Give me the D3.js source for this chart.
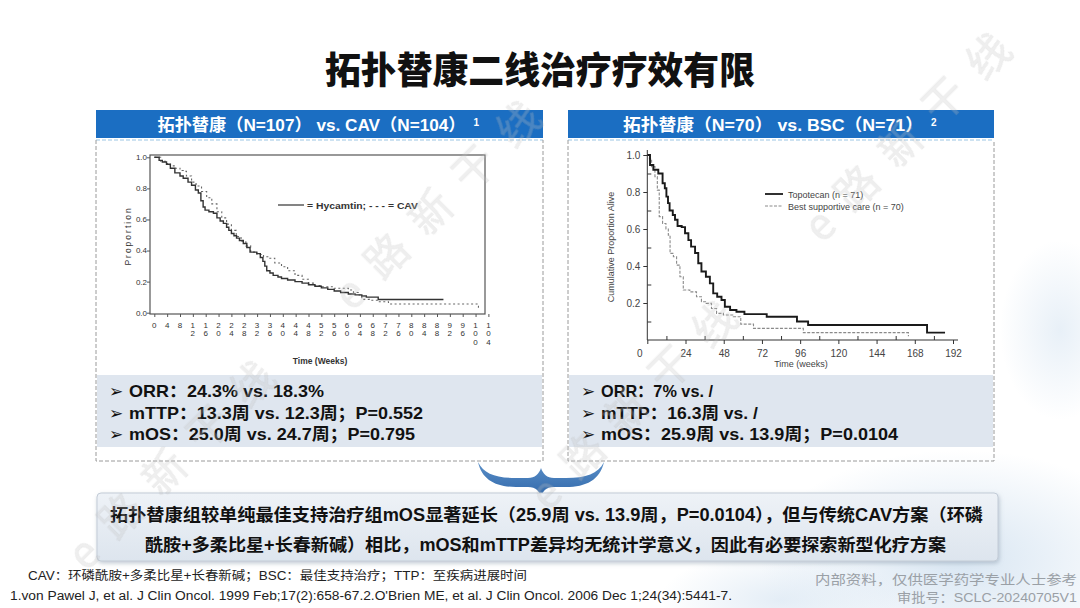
<!DOCTYPE html>
<html><head><meta charset="utf-8">
<script src="https://cdn.jsdelivr.net/npm/d3@7"></script>
<style>
html,body{margin:0;padding:0;background:#fff;}
svg{display:block;font-family:"Liberation Sans","Noto Sans CJK SC",sans-serif;}
</style></head>
<body>
<svg id="c" width="1080" height="608"></svg>
<script>
// ---------- DATA ----------
const title = "拓扑替康二线治疗疗效有限";
const headerLeft = "拓扑替康（N=107） vs. CAV（N=104）";
const headerRight = "拓扑替康（N=70） vs. BSC（N=71）";
const bulletsLeft = ["ORR：24.3% vs. 18.3%", "mTTP：13.3周 vs. 12.3周；P=0.552", "mOS：25.0周 vs. 24.7周；P=0.795"];
const bulletsRight = ["ORR：7% vs. /", "mTTP：16.3周 vs. /", "mOS：25.9周 vs. 13.9周；P=0.0104"];
const summaryLines = ["拓扑替康组较单纯最佳支持治疗组mOS显著延长（25.9周 vs. 13.9周，P=0.0104），但与传统CAV方案（环磷",
                      "酰胺+多柔比星+长春新碱）相比，mOS和mTTP差异均无统计学意义，因此有必要探索新型化疗方案"];
const footLeft = ["CAV：环磷酰胺+多柔比星+长春新碱；BSC：最佳支持治疗；TTP：至疾病进展时间",
                  "1.von Pawel J, et al. J Clin Oncol. 1999 Feb;17(2):658-67.2.O'Brien ME, et al. J Clin Oncol. 2006 Dec 1;24(34):5441-7."];
const footRight = ["内部资料，仅供医学药学专业人士参考", "审批号：SCLC-20240705V1"];

// left chart (weeks, proportion)
const leftXTicks = d3.range(0, 105, 4);
const leftYTicks = [0, 0.2, 0.4, 0.6, 0.8, 1.0];
const hycamtin = [[0,1],[1.5,0.98],[2.5,0.97],[3.8,0.955],[5,0.93],[6.4,0.90],[8,0.88],[9,0.865],[10.5,0.84],[11.6,0.82],[12.8,0.79],[13.7,0.77],[14.5,0.72],[15.2,0.68],[15.8,0.66],[17,0.65],[18.4,0.64],[19.5,0.61],[20.5,0.59],[21.5,0.575],[22.5,0.55],[23.2,0.53],[24,0.51],[24.8,0.495],[25.6,0.48],[26.5,0.465],[27.7,0.445],[28.8,0.42],[29.8,0.39],[31.9,0.38],[33,0.355],[33.8,0.33],[34.4,0.30],[35,0.27],[36,0.255],[37,0.24],[38.5,0.23],[39.6,0.22],[41.5,0.21],[43.8,0.20],[46,0.19],[48,0.18],[50,0.17],[52,0.16],[54,0.15],[56,0.14],[58,0.13],[60.4,0.12],[62.5,0.115],[64.6,0.107],[66,0.10],[69.7,0.085],[90,0.085]];
const cav = [[0,1],[2,0.975],[3.8,0.96],[5,0.945],[6.4,0.93],[8,0.915],[9,0.91],[10,0.88],[11.6,0.84],[13,0.815],[14.7,0.78],[16.3,0.74],[17.9,0.70],[19.5,0.65],[21,0.61],[22.5,0.57],[24,0.53],[25.5,0.49],[27,0.46],[28.5,0.43],[30,0.39],[32,0.375],[34,0.36],[35.5,0.35],[37.5,0.32],[39.6,0.296],[41.5,0.27],[43.8,0.24],[46,0.215],[48,0.19],[50,0.175],[52,0.167],[56,0.157],[60.4,0.146],[62,0.13],[63.5,0.114],[64.6,0.086],[67,0.08],[69.7,0.07],[72.9,0.056],[100.9,0.056],[100.9,0.03]];

// right chart
const rightXTicks = d3.range(0, 193, 24);
const rightXMinor = d3.range(12, 193, 24);
const rightYTicks = [0.2, 0.4, 0.6, 0.8, 1.0];
const rightYMinor = [0.1, 0.3, 0.5, 0.7, 0.9];
const topotecan = [[0,1],[1.7,0.946],[3.8,0.92],[6.9,0.90],[9.6,0.847],[11,0.82],[12,0.775],[13,0.74],[14,0.70],[16,0.676],[17.4,0.65],[19,0.616],[21.6,0.61],[23.7,0.577],[25.8,0.54],[27.5,0.505],[30,0.47],[32,0.415],[34,0.37],[36.8,0.342],[39.3,0.306],[41.4,0.252],[43.9,0.234],[46.6,0.216],[48.7,0.18],[52,0.162],[56,0.153],[61,0.14],[75,0.126],[94,0.10],[101,0.081],[175.7,0.04],[187,0.04]];
const bsc = [[0,1],[1.3,0.98],[2.7,0.937],[4.8,0.883],[6.3,0.81],[7.5,0.667],[9.6,0.63],[11.7,0.60],[13.2,0.567],[14.3,0.468],[16.4,0.45],[18.4,0.405],[20.5,0.342],[22.6,0.27],[26.7,0.26],[30.9,0.234],[34,0.207],[37,0.198],[40.3,0.17],[43.5,0.144],[47.8,0.135],[54,0.126],[58.7,0.086],[66.7,0.063],[98,0.04],[164,0.04],[164,0.02]];
const leftLegend = "= Hycamtin; - - - = CAV";
const rightLegend = ["Topotecan (n = 71)", "Best supportive care (n = 70)"];
const watermark = "e路新干线";

// ---------- DRAW ----------
const svg = d3.select("#c");
const defs = svg.append("defs");
const rg = defs.append("radialGradient").attr("id","bub");
rg.append("stop").attr("offset","0%").attr("stop-color","#d4e3f1").attr("stop-opacity",0.9);
rg.append("stop").attr("offset","100%").attr("stop-color","#d4e3f1").attr("stop-opacity",0);
const sg = defs.append("linearGradient").attr("id","sumg").attr("x1",0).attr("y1",0).attr("x2",0).attr("y2",1);
sg.append("stop").attr("offset","0%").attr("stop-color","#eef2f7");
sg.append("stop").attr("offset","100%").attr("stop-color","#dde5ee");
const bg = defs.append("linearGradient").attr("id","brg").attr("x1",0).attr("y1",0).attr("x2",0).attr("y2",1);
bg.append("stop").attr("offset","0%").attr("stop-color","#5a8fc8");
bg.append("stop").attr("offset","100%").attr("stop-color","#2f66a8");
const sh = defs.append("filter").attr("id","shadow").attr("x","-5%").attr("y","-20%").attr("width","110%").attr("height","150%");
sh.append("feDropShadow").attr("dx",1).attr("dy",2).attr("stdDeviation",2).attr("flood-color","#8899aa").attr("flood-opacity",0.5);

// background decorations
svg.append("ellipse").attr("cx",960).attr("cy",560).attr("rx",200).attr("ry",110).attr("fill","url(#bub)");
svg.append("ellipse").attr("cx",1060).attr("cy",330).attr("rx",60).attr("ry",90).attr("fill","url(#bub)").attr("opacity",0.6);
svg.append("ellipse").attr("cx",780).attr("cy",600).attr("rx",120).attr("ry",50).attr("fill","url(#bub)").attr("opacity",0.7);

// title
svg.append("text").attr("x",540).attr("y",84).attr("text-anchor","middle")
  .attr("font-family","'Noto Sans CJK SC'").attr("font-weight",900).attr("font-size",37)
  .attr("fill","#111").attr("textLength",430).attr("lengthAdjust","spacingAndGlyphs").text(title);

// panels
function panel(x0, x1, header, sup, hdrLen, bullets, bulletLens) {
  const g = svg.append("g");
  g.append("rect").attr("x",x0).attr("y",110).attr("width",x1-x0).attr("height",28).attr("fill","#1b6ec2");
  const cx = (x0+x1)/2;
  g.append("text").attr("x",cx-8).attr("y",131).attr("text-anchor","middle").attr("fill","#fff")
   .attr("font-weight",700).attr("font-size",17).attr("textLength",hdrLen).attr("lengthAdjust","spacingAndGlyphs")
   .text(header);
  g.append("text").attr("x",cx-8+hdrLen/2+8).attr("y",126).attr("fill","#fff").attr("font-size",10).attr("font-weight",700).text(sup);
  // dashed box
  g.append("line").attr("x1",x0).attr("x2",x1).attr("y1",140).attr("y2",140).attr("stroke","#9cc6e4").attr("stroke-width",1.2).attr("stroke-dasharray","4,2");
  g.append("path").attr("d",`M${x0},140 V461 H${x1} V140`).attr("fill","none").attr("stroke","#9a9a9a").attr("stroke-width",1).attr("stroke-dasharray","4,2");
  // bullets background
  g.append("rect").attr("x",x0+1).attr("y",375).attr("width",x1-x0-2).attr("height",72).attr("fill","#dfe6ef");
  bullets.forEach((b,i)=>{
    const y = 397 + i*21.5;
    g.append("text").attr("x",x0+13).attr("y",y).attr("font-size",17).attr("font-family","'DejaVu Sans'").attr("fill","#111").text("➢");
    g.append("text").attr("x",x0+33).attr("y",y).attr("font-size",17).attr("font-weight",700).attr("fill","#111")
      .attr("textLength",bulletLens[i]).attr("lengthAdjust","spacingAndGlyphs").text(b);
  });
  return g;
}
panel(96, 543, headerLeft, "1", 308, bulletsLeft, [195, 294, 286]);
panel(568, 994, headerRight, "2", 300, bulletsRight, [112, 157, 297]);

// ---------- LEFT CHART ----------
const xL = d3.scaleLinear().domain([0,104]).range([154.3,488.4]);
const yL = d3.scaleLinear().domain([0,1]).range([312.7,157.3]);
const gl = svg.append("g").attr("font-family","'Liberation Sans',Arial,sans-serif");
gl.append("rect").attr("x",150).attr("y",155).attr("width",335).attr("height",159).attr("fill","none").attr("stroke","#555").attr("stroke-width",1.2);
const yAxL = gl.append("g").attr("transform","translate(150,0)")
  .call(d3.axisLeft(yL).tickValues(leftYTicks).tickFormat(d3.format(".1f")).tickSize(3));
yAxL.select(".domain").remove();
yAxL.selectAll("text").attr("font-size",8).attr("fill","#333").attr("dy","0.3em").attr("x",-3);
yAxL.selectAll("line").attr("stroke","#555");
const xAxL = gl.append("g").attr("transform","translate(0,314)")
  .call(d3.axisBottom(xL).tickValues(leftXTicks).tickFormat("").tickSize(3));
xAxL.select(".domain").remove();
xAxL.selectAll("line").attr("stroke","#555");
leftXTicks.forEach(v=>{
  const t = gl.append("text").attr("x",xL(v)).attr("y",328).attr("text-anchor","middle").attr("font-size",8).attr("fill","#333");
  String(v).split("").forEach((ch,i)=>t.append("tspan").attr("x",xL(v)).attr("dy",i===0?0:8.4).text(ch));
});
gl.append("text").attr("transform","translate(131,236) rotate(-90)").attr("text-anchor","middle").attr("font-size",8.5)
  .attr("letter-spacing",2).attr("fill","#333").text("Proportion");
gl.append("text").attr("x",320).attr("y",364).attr("text-anchor","middle").attr("font-size",8.5).attr("font-weight",700).attr("fill","#333").text("Time (Weeks)");
const lineL = d3.line().x(d=>xL(d[0])).y(d=>yL(d[1])).curve(d3.curveStepAfter);
gl.append("path").datum(cav).attr("d",lineL).attr("fill","none").attr("stroke","#666").attr("stroke-width",1.1).attr("stroke-dasharray","2,2.5");
gl.append("path").datum(hycamtin).attr("d",lineL).attr("fill","none").attr("stroke","#333").attr("stroke-width",1.4);
gl.append("line").attr("x1",278).attr("x2",304).attr("y1",205).attr("y2",205).attr("stroke","#333").attr("stroke-width",1.2);
gl.append("text").attr("x",307).attr("y",208.5).attr("font-size",9.5).attr("font-weight",700).attr("fill","#333")
  .attr("textLength",111).attr("lengthAdjust","spacingAndGlyphs").text(leftLegend);

// ---------- RIGHT CHART ----------
const xR = d3.scaleLinear().domain([0,192]).range([647.3,953]);
const yR = d3.scaleLinear().domain([0,1]).range([340,155]);
const gr = svg.append("g").attr("font-family","'Liberation Sans',Arial,sans-serif");
const yAxR = gr.append("g").attr("transform","translate(647.3,0)")
  .call(d3.axisLeft(yR).tickValues(rightYTicks).tickFormat(d3.format(".1f")).tickSize(4));
yAxR.select(".domain").attr("d","M0,150V340").attr("stroke","#333");
yAxR.selectAll("text").attr("font-size",10).attr("fill","#444");
yAxR.selectAll("line").attr("stroke","#333");
const yMinR = gr.append("g").attr("transform","translate(647.3,0)")
  .call(d3.axisRight(yR).tickValues(rightYMinor).tickFormat("").tickSize(4));
yMinR.select(".domain").remove();
yMinR.selectAll("line").attr("stroke","#333");
const xAxR = gr.append("g").attr("transform","translate(0,340)")
  .call(d3.axisBottom(xR).tickValues(rightXTicks).tickFormat(d3.format("d")).tickSize(4));
xAxR.select(".domain").attr("d","M647.3,0H958").attr("stroke","#333");
xAxR.selectAll("text").attr("font-size",10).attr("fill","#444").attr("dy","0.95em");
xAxR.selectAll(".tick").filter(d=>d===0).select("text").attr("x",-8);
xAxR.selectAll("line").attr("stroke","#333");
const xMinR = gr.append("g").attr("transform","translate(0,340)")
  .call(d3.axisTop(xR).tickValues(rightXMinor).tickFormat("").tickSize(4));
xMinR.select(".domain").remove();
xMinR.selectAll("line").attr("stroke","#333");
gr.append("text").attr("transform","translate(614,247) rotate(-90)").attr("text-anchor","middle").attr("font-size",9)
  .attr("fill","#444").text("Cumulative Proportion Alive");
gr.append("text").attr("x",801).attr("y",367).attr("text-anchor","middle").attr("font-size",9).attr("fill","#444").text("Time (weeks)");
const lineR = d3.line().x(d=>xR(d[0])).y(d=>yR(d[1])).curve(d3.curveStepAfter);
gr.append("path").datum(bsc).attr("d",lineR).attr("fill","none").attr("stroke","#8a8a8a").attr("stroke-width",1.1).attr("stroke-dasharray","3,1.5");
gr.append("path").datum(topotecan).attr("d",lineR).attr("fill","none").attr("stroke","#1a1a1a").attr("stroke-width",1.9);
gr.append("line").attr("x1",765).attr("x2",783).attr("y1",194).attr("y2",194).attr("stroke","#1a1a1a").attr("stroke-width",1.8);
gr.append("line").attr("x1",765).attr("x2",783).attr("y1",206).attr("y2",206).attr("stroke","#8a8a8a").attr("stroke-width",1).attr("stroke-dasharray","3,1.5");
rightLegend.forEach((t,i)=>gr.append("text").attr("x",788).attr("y",197.5+i*12).attr("font-size",9).attr("fill","#444").text(t));

// ---------- BRACE ----------
svg.append("path").attr("fill","url(#brg)")
  .attr("d","M478,462 C482,480 496,487 516,487 L528,487 C536,487 540,491 541,499 C542,491 546,487 554,487 L566,487 C586,487 600,480 604,462 C598,474 586,478 566,478 L554,478 C547,478 543,474 541,468 C539,474 535,478 528,478 L516,478 C496,478 484,474 478,462 Z");

// ---------- SUMMARY ----------
svg.append("rect").attr("x",97).attr("y",493).attr("width",901).attr("height",68).attr("rx",4)
  .attr("fill","url(#sumg)").attr("stroke","#c3ccd7").attr("stroke-width",1).attr("filter","url(#shadow)");
const sumLens = [873, 801];
const sumX = [110, 145];
summaryLines.forEach((t,i)=>svg.append("text").attr("x",sumX[i]).attr("y",521+i*30).attr("font-size",17.5).attr("font-weight",700)
  .attr("fill","#111").attr("textLength",sumLens[i]).attr("lengthAdjust","spacingAndGlyphs").text(t));

// ---------- FOOTNOTES ----------
svg.append("text").attr("x",28).attr("y",580).attr("font-size",12).attr("fill","#222").attr("textLength",499).attr("lengthAdjust","spacingAndGlyphs").text(footLeft[0]);
svg.append("text").attr("x",10).attr("y",600).attr("font-size",12).attr("fill","#222").attr("textLength",722).attr("lengthAdjust","spacingAndGlyphs").text(footLeft[1]);
svg.append("text").attr("x",1077).attr("y",584).attr("text-anchor","end").attr("font-size",13).attr("fill","#9aa0a6").attr("textLength",262).attr("lengthAdjust","spacingAndGlyphs").text(footRight[0]);
svg.append("text").attr("x",1077).attr("y",602).attr("text-anchor","end").attr("font-size",13).attr("fill","#9aa0a6").attr("textLength",180).attr("lengthAdjust","spacingAndGlyphs").text(footRight[1]);

// ---------- WATERMARKS ----------
const wmStarts = [[352,312],[548,512],[86,572],[822,244]];
const wm = svg.append("g").attr("pointer-events","none").attr("opacity",0.28);
wmStarts.forEach(p=>wm.append("text").attr("transform",`translate(${p[0]},${p[1]}) rotate(-45)`)
  .attr("font-family","'Noto Sans CJK SC'").attr("font-size",42).attr("letter-spacing",20)
  .attr("fill","#c4c4c4").attr("stroke","#b0b0b0").attr("stroke-width",0.6).text(watermark));
</script>
</body></html>
